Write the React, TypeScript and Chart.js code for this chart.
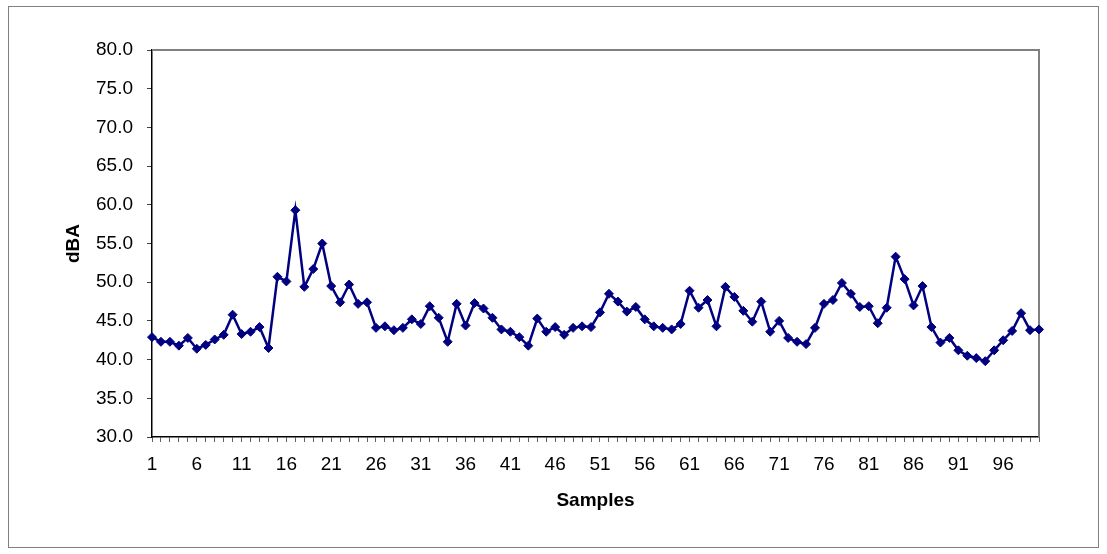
import React, { useEffect, useRef } from "react";
import { Chart, registerables } from "chart.js";

Chart.register(...registerables);

const samples: string[] = Array.from({ length: 100 }, (_, i) => String(i + 1));

const dBA: number[] = [
  42.9, 42.3, 42.3, 41.8, 42.8, 41.4, 41.9, 42.6, 43.2, 45.8,
  43.3, 43.6, 44.2, 41.5, 50.7, 50.1, 59.3, 49.4, 51.7, 55.0,
  49.5, 47.4, 49.7, 47.2, 47.4, 44.1, 44.3, 43.8, 44.1, 45.2,
  44.6, 46.9, 45.4, 42.3, 47.2, 44.4, 47.3, 46.6, 45.4, 43.9,
  43.6, 42.9, 41.8, 45.3, 43.6, 44.2, 43.2, 44.1, 44.3, 44.2,
  46.1, 48.5, 47.5, 46.2, 46.8, 45.2, 44.3, 44.1, 43.9, 44.6,
  48.9, 46.7, 47.7, 44.3, 49.4, 48.1, 46.3, 44.9, 47.5, 43.6,
  45.0, 42.8, 42.3, 42.0, 44.1, 47.2, 47.7, 49.9, 48.5, 46.8,
  46.9, 44.7, 46.7, 53.3, 50.4, 47.0, 49.5, 44.2, 42.2, 42.8,
  41.2, 40.5, 40.2, 39.8, 41.2, 42.5, 43.7, 46.0, 43.8, 43.9,
];

const yMin = 30;
const yMax = 80;
const yStep = 5;
const xLabelEvery = 5;

const FONT = "'Liberation Sans', Arial, sans-serif";

const framePlugin = {
  id: "frame",
  beforeDatasetsDraw(chart: any) {
    const { ctx, chartArea } = chart;
    ctx.save();
    ctx.strokeStyle = "#808080";
    ctx.lineWidth = 2;
    ctx.beginPath();
    ctx.moveTo(chartArea.left, chartArea.top);
    ctx.lineTo(chartArea.right, chartArea.top);
    ctx.lineTo(chartArea.right, chartArea.bottom);
    ctx.stroke();
    ctx.restore();
  },
  afterDraw(chart: any) {
    const { ctx } = chart;
    ctx.save();
    ctx.strokeStyle = "#808080";
    ctx.lineWidth = 1;
    ctx.strokeRect(8.5, 6.5, 1090, 541);
    ctx.restore();
  },
};

export default function App() {
  const ref = useRef<HTMLCanvasElement | null>(null);

  useEffect(() => {
    if (!ref.current) return;
    const chart = new Chart(ref.current, {
      type: "line",
      data: {
        labels: samples,
        datasets: [
          {
            data: dBA,
            borderColor: "#000080",
            backgroundColor: "#000080",
            borderWidth: 2.5,
            pointStyle: "rectRot",
            pointRadius: 4.5,
            pointBorderWidth: 1,
            pointBackgroundColor: "#000080",
            pointBorderColor: "#000080",
            tension: 0,
            fill: false,
          },
        ],
      },
      options: {
        responsive: false,
        animation: false,
        events: [],
        layout: { padding: { left: 8, top: 50, right: 68, bottom: 7 } },
        plugins: {
          legend: { display: false },
          tooltip: { enabled: false },
        },
        scales: {
          x: {
            type: "category",
            offset: false,
            afterFit: (s: any) => {
              s.height = 110;
            },
            grid: {
              display: true,
              drawOnChartArea: false,
              drawTicks: true,
              tickLength: 5,
              color: "#606060",
              tickColor: "#606060",
            },
            border: { display: true, color: "#000000", width: 1.5 },
            ticks: {
              autoSkip: false,
              maxRotation: 0,
              minRotation: 0,
              padding: 11,
              color: "#000000",
              font: { family: FONT, size: 19 },
              callback: (_v: any, i: number) =>
                i % xLabelEvery === 0 ? samples[i] : "",
            },
            title: {
              display: true,
              text: "Samples",
              color: "#000000",
              font: { family: FONT, size: 19, weight: "bold" },
              padding: { top: 0, bottom: 35 },
            },
          },
          y: {
            min: yMin,
            max: yMax,
            afterFit: (s: any) => {
              s.width = 144;
            },
            grid: {
              display: true,
              drawOnChartArea: false,
              drawTicks: true,
              tickLength: 5,
              color: "#404040",
              tickColor: "#404040",
            },
            border: { display: true, color: "#000000", width: 1.5 },
            ticks: {
              stepSize: yStep,
              padding: 14,
              color: "#000000",
              font: { family: FONT, size: 19 },
              callback: (v: any) => Number(v).toFixed(1),
            },
            title: {
              display: true,
              text: "dBA",
              color: "#000000",
              font: { family: FONT, size: 19, weight: "bold" },
              padding: { top: 54, bottom: 0 },
            },
          },
        },
      },
      plugins: [framePlugin],
    });
    return () => chart.destroy();
  }, []);

  return (
    <div
      style={{
        position: "fixed",
        left: 0,
        top: 0,
        width: 1107,
        height: 554,
        background: "#ffffff",
      }}
    >
      <canvas
        ref={ref}
        width={1107}
        height={554}
        style={{ display: "block", width: 1107, height: 554 }}
      />
    </div>
  );
}
